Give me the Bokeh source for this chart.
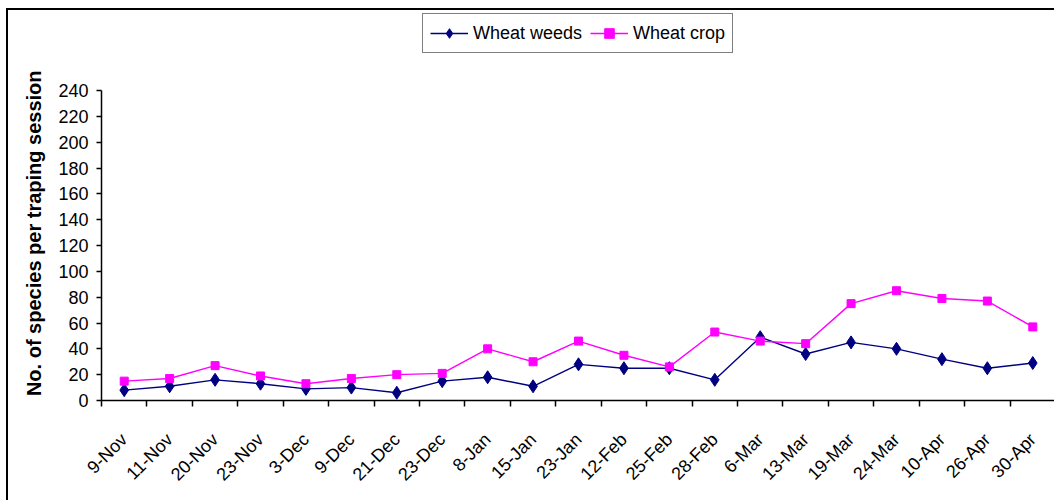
import math
from bokeh.plotting import figure
from bokeh.models import (Range1d, FixedTicker, Legend, LegendItem, ColumnDataSource)
from bokeh.embed import file_html
from bokeh.resources import INLINE

dates = ["9-Nov", "11-Nov", "20-Nov", "23-Nov", "3-Dec", "9-Dec", "21-Dec", "23-Dec",
         "8-Jan", "15-Jan", "23-Jan", "12-Feb", "25-Feb", "28-Feb", "6-Mar", "13-Mar",
         "19-Mar", "24-Mar", "10-Apr", "26-Apr", "30-Apr"]
wheat_weeds = [8, 11, 16, 13, 9, 10, 6, 15, 18, 11, 28, 25, 25, 16, 49, 36, 45, 40, 32, 25, 29]
wheat_crop = [15, 17, 27, 19, 13, 17, 20, 21, 40, 30, 46, 35, 26, 53, 46, 44, 75, 85, 79, 77, 57]
y_ticks = list(range(0, 241, 20))
y_title = "No. of species per traping session"

n = len(dates)
xs = [i + 0.5 for i in range(n)]
src = ColumnDataSource(dict(x=xs, weeds=wheat_weeds, crop=wheat_crop))

FONT = "Liberation Sans"

# frame spans canvas top (y=10) to x axis (y=400); the 0..240 axis covers 310 px of 390
Y_MAX = 240
y_top = Y_MAX * 390 / 310

p = figure(width=1048, height=492, output_backend="svg", toolbar_location=None,
           x_range=Range1d(0, n), y_range=Range1d(0, y_top),
           min_border_left=93, min_border_right=1, min_border_top=0, min_border_bottom=102)
p.title.visible = False
p.styles = {"margin-left": "6px", "margin-top": "8px",
            "border-left": "2px solid black", "border-top": "2px solid black"}
p.outline_line_color = None
p.xgrid.visible = False
p.ygrid.visible = False
p.background_fill_color = "white"
p.border_fill_color = "white"

# x axis: labels at category centres, ticks at category boundaries
p.xaxis.ticker = FixedTicker(ticks=xs, minor_ticks=list(range(n + 1)))
p.xaxis.major_label_overrides = {x: d for x, d in zip(xs, dates)}
p.xaxis.major_tick_line_color = None
p.xaxis.major_tick_out = 0
p.xaxis.major_tick_in = 0
p.xaxis.minor_tick_out = 6
p.xaxis.minor_tick_in = 0
p.xaxis.minor_tick_line_color = "black"
p.xaxis.minor_tick_line_width = 1.5
p.xaxis.major_label_orientation = math.pi / 4
p.xaxis.major_label_standoff = 30
p.xaxis.major_label_text_font = FONT
p.xaxis.major_label_text_font_size = "18px"
p.xaxis.major_label_text_color = "black"
p.xaxis.axis_line_color = "black"
p.xaxis.axis_line_width = 1.5

p.yaxis.bounds = (0, Y_MAX)
p.yaxis.ticker = FixedTicker(ticks=y_ticks)
p.yaxis.minor_tick_line_color = None
p.yaxis.major_tick_out = 5
p.yaxis.major_tick_in = 0
p.yaxis.major_tick_line_color = "black"
p.yaxis.major_tick_line_width = 1.5
p.yaxis.axis_line_color = "black"
p.yaxis.axis_line_width = 1.5
p.yaxis.major_label_standoff = 8
p.yaxis.major_label_text_font = FONT
p.yaxis.major_label_text_font_size = "18px"
p.yaxis.major_label_text_color = "black"
# trailing no-break spaces move the centred title down toward the middle of the 0..240 span
p.yaxis.axis_label = y_title + "\u00a0" * 10
p.yaxis.axis_label_text_font = FONT
p.yaxis.axis_label_text_font_style = "bold"
p.yaxis.axis_label_text_font_size = "20px"
p.yaxis.axis_label_text_color = "black"
p.yaxis.axis_label_standoff = 10

l1 = p.line("x", "weeds", source=src, line_color="#000080", line_width=1.4)
m1 = p.scatter("x", "weeds", source=src, marker="diamond", size=13,
               fill_color="#000080", line_color="#000080")
l2 = p.line("x", "crop", source=src, line_color="#FF00FF", line_width=1.4)
m2 = p.scatter("x", "crop", source=src, marker="square", size=8,
               fill_color="#FF00FF", line_color="#FF00FF")

legend = Legend(items=[LegendItem(label="Wheat weeds", renderers=[l1, m1]),
                       LegendItem(label="Wheat crop", renderers=[l2, m2])],
                orientation="horizontal", location=(321, 347))
legend.glyph_width = 38
legend.glyph_height = 24
legend.label_height = 24
legend.label_standoff = 5
legend.spacing = 8
legend.padding = 7
legend.margin = 0
legend.label_text_font = FONT
legend.label_text_font_size = "18px"
legend.label_text_color = "black"
legend.border_line_color = "black"
legend.border_line_width = 1.5
legend.background_fill_color = "white"
legend.background_fill_alpha = 1
p.add_layout(legend, "center")

open("out.html", "w").write(file_html(p, INLINE))
